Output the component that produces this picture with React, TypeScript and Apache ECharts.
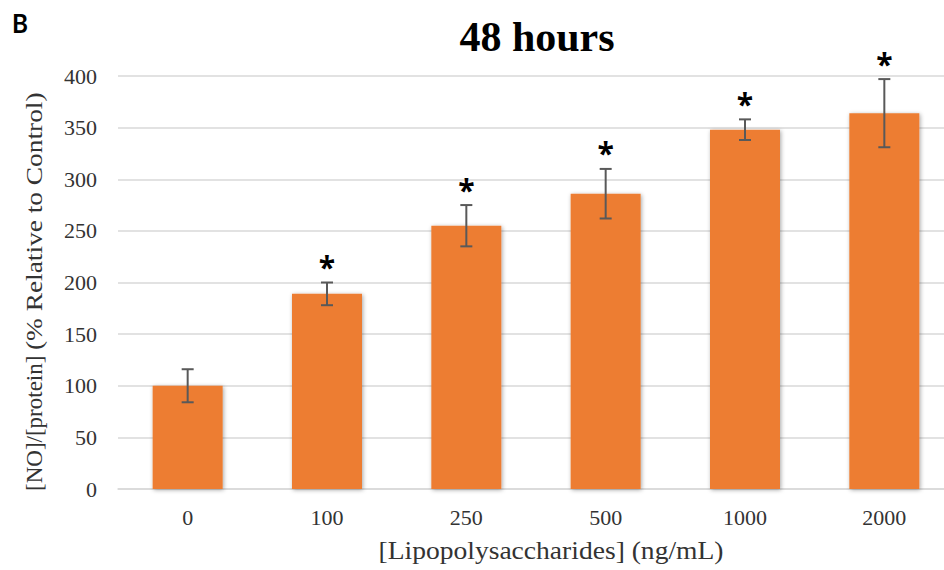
import React, { useEffect, useRef } from "react";
import * as echarts from "echarts";

const categories = ["0", "100", "250", "500", "1000", "2000"];
const means = [100, 189, 255, 286, 348, 364];
const errors = [16, 11, 20, 24, 10, 33];
const significant = [false, true, true, true, true, true];
const yTicks = { min: 0, max: 400, interval: 50 };

export default function App() {
  const ref = useRef<HTMLDivElement>(null);
  useEffect(() => {
    if (!ref.current) return;
    const chart = echarts.init(ref.current, null, { renderer: "svg" });
    const errData = categories.map((c, i) => [i, means[i] - errors[i], means[i] + errors[i], significant[i] ? 1 : 0]);
    const txt = "#333333";
    chart.setOption({
      animation: false,
      backgroundColor: "#ffffff",
      grid: { left: 118, top: 76, width: 836, bottom: 81, containLabel: false },
      xAxis: {
        type: "category",
        data: categories,
        axisLine: { show: true, lineStyle: { color: "#d9d9d9", width: 1.5 } },
        axisTick: { show: false },
        axisLabel: { color: txt, fontFamily: "Liberation Serif", fontSize: 22, margin: 17 },
      },
      yAxis: {
        type: "value",
        min: yTicks.min,
        max: yTicks.max,
        interval: yTicks.interval,
        axisLine: { show: false },
        axisTick: { show: false },
        splitLine: { lineStyle: { color: "#d9d9d9", width: 1.5 } },
        axisLabel: { color: txt, fontFamily: "Liberation Serif", fontSize: 22, margin: 21 },
      },
      graphic: [
        {
          type: "text", x: 12, y: 22, scaleX: 0.9,
          style: { text: "B", font: "bold 27px Lato, sans-serif", fill: "#000", textAlign: "left", textVerticalAlign: "middle" },
        },
        {
          type: "text", x: 537, y: 37,
          style: { text: "48 hours", font: "bold 42px 'Liberation Serif', serif", fill: "#000", textAlign: "center", textVerticalAlign: "middle" },
        },
        {
          type: "text", x: 551, y: 550, scaleX: 1.06,
          style: { text: "[Lipopolysaccharides] (ng/mL)", font: "26px 'Liberation Serif', serif", fill: txt, textAlign: "center", textVerticalAlign: "middle" },
        },
        {
          type: "text", x: 34, y: 491, rotation: Math.PI / 2,
          style: { text: "[NO]/[protein]", font: "23px 'Liberation Serif', serif", fill: txt, textAlign: "left", textVerticalAlign: "middle" },
        },
        {
          type: "text", x: 34, y: 350, rotation: Math.PI / 2, scaleX: 1.19,
          style: { text: "(% Relative to Control)", font: "23px 'Liberation Serif', serif", fill: txt, textAlign: "left", textVerticalAlign: "middle" },
        },
      ],
      series: [
        {
          type: "bar",
          data: means,
          barWidth: 70,
          itemStyle: { color: "#ED7D31", shadowColor: "rgba(0,0,0,0.35)", shadowBlur: 4, shadowOffsetX: 1, shadowOffsetY: 1 },
        },
        {
          type: "custom",
          data: errData,
          z: 10,
          renderItem: (params: any, api: any) => {
            const x = api.value(0);
            const lo = api.coord([x, api.value(1)]);
            const hi = api.coord([x, api.value(2)]);
            const cap = 6;
            const style = { stroke: "#595959", lineWidth: 2 };
            const children: any[] = [
              { type: "line", shape: { x1: lo[0], y1: lo[1], x2: hi[0], y2: hi[1] }, style },
              { type: "line", shape: { x1: lo[0] - cap, y1: lo[1], x2: lo[0] + cap, y2: lo[1] }, style },
              { type: "line", shape: { x1: hi[0] - cap, y1: hi[1], x2: hi[0] + cap, y2: hi[1] }, style },
            ];
            if (api.value(3) === 1) {
              children.push({
                type: "text",
                x: hi[0], y: hi[1] - 16,
                style: { text: "*", font: "bold 30px 'Open Sans', sans-serif", fill: "#000", textAlign: "center", textVerticalAlign: "middle" },
              });
            }
            return { type: "group", children };
          },
        },
      ],
    });
    return () => chart.dispose();
  }, []);
  return (
    <div style={{ width: 944, height: 570, position: "absolute", left: 0, top: 0, overflow: "hidden", background: "#fff" }}>
      <div ref={ref} style={{ width: 960, height: 570 }} />
    </div>
  );
}
